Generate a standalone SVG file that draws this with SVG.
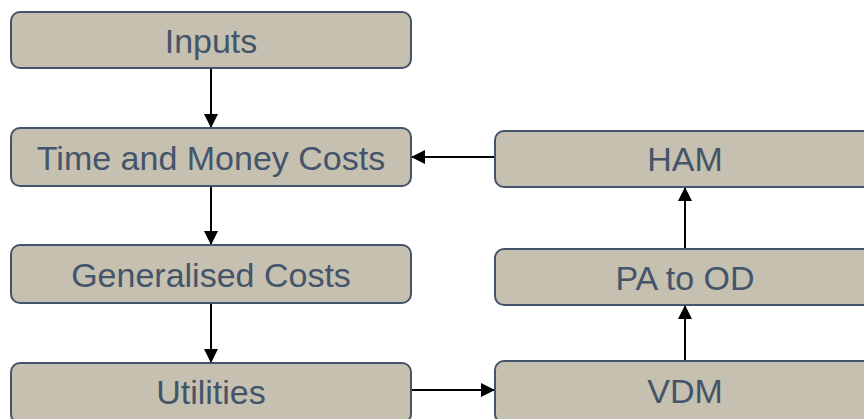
<svg xmlns="http://www.w3.org/2000/svg" width="864" height="419" viewBox="0 0 864 419">
<defs>
<style>
.box{fill:#c6c0b0;stroke:#44546a;stroke-width:2}
.lbl{font-family:"Liberation Sans",Arial,sans-serif;font-size:34px;fill:#44546a;text-anchor:middle;dominant-baseline:central}
.edge{stroke:#000;stroke-width:2;fill:none;marker-end:url(#ah)}
</style>
<marker id="ah" markerWidth="14" markerHeight="14" refX="13" refY="7" orient="auto" markerUnits="userSpaceOnUse" viewBox="0 0 14 14">
<path d="M0,0 L14,7 L0,14 z" fill="#000"/>
</marker>
</defs>
<rect width="864" height="419" fill="#fff"/>
<g id="connectors">
<line class="edge" x1="211" y1="68" x2="211" y2="127"/>
<line class="edge" x1="211" y1="186" x2="211" y2="244"/>
<line class="edge" x1="211" y1="303" x2="211" y2="362"/>
<line class="edge" x1="495" y1="157" x2="412" y2="157"/>
<line class="edge" x1="411" y1="390" x2="494" y2="390"/>
<line class="edge" x1="685" y1="361" x2="685" y2="306"/>
<line class="edge" x1="685" y1="249" x2="685" y2="188"/>
</g>
<g id="inputs"><rect class="box" x="11" y="12" width="400" height="56" rx="9"/><text class="lbl" x="211" y="41">Inputs</text></g>
<g id="time-money"><rect class="box" x="11" y="128" width="400" height="58" rx="9"/><text class="lbl" x="211" y="158">Time and Money Costs</text></g>
<g id="generalised"><rect class="box" x="11" y="245" width="400" height="58" rx="9"/><text class="lbl" x="211" y="275">Generalised Costs</text></g>
<g id="utilities"><rect class="box" x="11" y="363" width="400" height="60" rx="9"/><text class="lbl" x="211" y="392">Utilities</text></g>
<g id="ham"><rect class="box" x="495" y="131" width="380" height="56" rx="9"/><text class="lbl" x="685" y="159">HAM</text></g>
<g id="pa-od"><rect class="box" x="495" y="249" width="380" height="56" rx="9"/><text class="lbl" x="685" y="278">PA to OD</text></g>
<g id="vdm"><rect class="box" x="495" y="361" width="380" height="62" rx="9"/><text class="lbl" x="685" y="391">VDM</text></g>
</svg>
